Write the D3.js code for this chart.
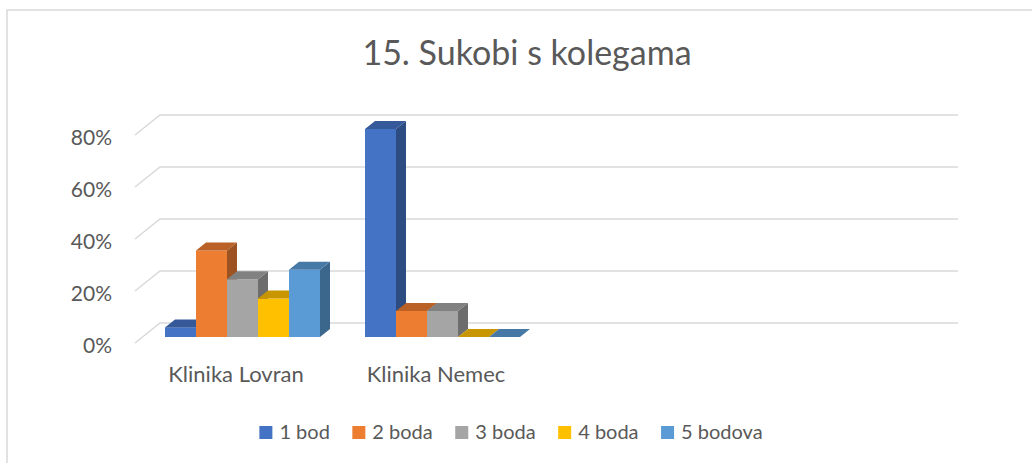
<!DOCTYPE html>
<html>
<head>
<meta charset="utf-8">
<script src="https://cdn.jsdelivr.net/npm/d3@7"></script>
<style>
	body { margin: 0; background: #fff; }
	svg { display: block; font-family: Lato, 'Open Sans', sans-serif; }
</style>
</head>
<body>
<div id="chart"></div>
<script>
const width = 1032;
const height = 463;

// data
const categories = ['Klinika Lovran', 'Klinika Nemec', '', ''];
const series = ['1 bod', '2 boda', '3 boda', '4 boda', '5 bodova'];
const lovran = [0.037, 0.333, 0.222, 0.148, 0.259];
const nemec = [0.8, 0.1, 0.1, 0, 0];
const values = [lovran, nemec, [], []];
const tickValues = [0, 0.2, 0.4, 0.6, 0.8];
const colors = ['#4472C4', '#ED7D31', '#A5A5A5', '#FFC000', '#5B9BD5'];

const svg = d3.select('#chart').append('svg').attr('width', width).attr('height', height);

// chart border
svg.append('rect')
	.attr('x', 7).attr('y', 10)
	.attr('width', width).attr('height', height)
	.attr('fill', 'none')
	.attr('stroke', '#d9d9d9')
	.attr('stroke-width', 1.5);

// title
svg.append('text')
	.attr('x', 527).attr('y', 65)
	.attr('text-anchor', 'middle')
	.style('font-size', '34px')
	.attr('fill', '#595959')
	.text('15. Sukobi s kolegama');

// scales (front plane), depth is done with a simple oblique offset
const x = d3.scaleBand().domain(d3.range(categories.length)).range([135, 935]);
const xInner = d3.scaleBand().domain(series).range([22.5, 177.5]);
const y = d3.scaleLinear().domain([0, 0.8]).range([343, 135]);
const depthX = 25, depthY = 20;
const d0 = 0.3, d1 = 0.7;

const pt = (px, v, d) => [px + depthX * d, y(v) - depthY * d];
const poly = (pts) => d3.line()(pts) + 'Z';

// gridlines: side wall diagonal + back wall
const x0 = x.range()[0];
const x1 = x.range()[1];
svg.append('g')
	.selectAll('path')
	.data(tickValues)
	.join('path')
	.attr('d', (v) => d3.line()([pt(x0, v, 0), pt(x0, v, 1), pt(x1 - 2, v, 1)]))
	.attr('fill', 'none')
	.attr('stroke', '#d9d9d9')
	.attr('stroke-width', 1.5);

// y axis labels
const yAxis = svg.append('g')
	.attr('transform', `translate(${x0},0)`)
	.call(d3.axisLeft(y).tickValues(tickValues).tickFormat(d3.format('.0%')).tickSize(0).tickPadding(23));
yAxis.select('.domain').remove();
yAxis.selectAll('text')
	.attr('dy', '0.46em')
	.attr('fill', '#595959')
	.style('font-family', 'Lato, sans-serif')
	.style('font-size', '21px');

// bars, flattened left to right so later bars hide earlier side faces
const bars = [];
values.forEach((vals, ci) => {
	vals.forEach((v, si) => {
		bars.push({ cat: ci, name: series[si], value: v, color: colors[si] });
	});
});

const barG = svg.append('g')
	.selectAll('g')
	.data(bars)
	.join('g');

barG.each(function (d) {
	const g = d3.select(this);
	const xl = x(d.cat) + xInner(d.name);
	const xr = xl + xInner.bandwidth();
	const v = d.value;
	if (v > 0) {
		g.append('path')
			.attr('d', poly([pt(xr, 0, d0), pt(xr, 0, d1), pt(xr, v, d1), pt(xr, v, d0)]))
			.attr('fill', d3.color(d.color).darker(1.15));
		g.append('path')
			.attr('d', poly([pt(xl, 0, d0), pt(xr, 0, d0), pt(xr, v, d0), pt(xl, v, d0)]))
			.attr('fill', d.color);
	}
	g.append('path')
		.attr('d', poly([pt(xl, v, d0), pt(xr, v, d0), pt(xr, v, d1), pt(xl, v, d1)]))
		.attr('fill', d3.color(d.color).darker(0.7));
});

// category labels
svg.append('g')
	.selectAll('text')
	.data(categories)
	.join('text')
	.attr('x', (d, i) => x(i) + x.bandwidth() / 2 + 1)
	.attr('y', 382)
	.attr('text-anchor', 'middle')
	.attr('fill', '#595959')
	.style('font-size', '22px')
	.text((d) => d);

// legend
const legend = svg.append('g');
const items = legend.selectAll('g')
	.data(series)
	.join('g');
items.append('rect')
	.attr('y', 426)
	.attr('width', 13).attr('height', 13)
	.attr('fill', (d, i) => colors[i]);
items.append('text')
	.attr('x', 20)
	.attr('y', 439)
	.attr('fill', '#595959')
	.style('font-size', '20px')
	.text((d) => d);

let cursor = 0;
items.each(function () {
	const g = d3.select(this);
	g.attr('transform', `translate(${cursor},0)`);
	cursor += 20 + g.select('text').node().getComputedTextLength() + 22.5;
});
const legendWidth = cursor - 22.5;
legend.attr('transform', `translate(${511 - legendWidth / 2},0)`);
</script>
</body>
</html>
